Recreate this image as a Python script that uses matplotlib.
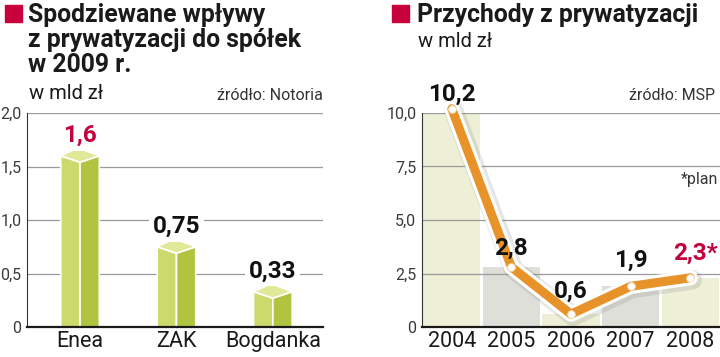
import matplotlib
matplotlib.use("Agg")
import matplotlib.pyplot as plt
import matplotlib.patheffects as pe
from matplotlib.patches import Rectangle

plt.rcParams['font.family'] = ['Roboto', 'DejaVu Sans']

# left chart: expected privatisation inflows 2009
companies = ["Enea", "ZAK", "Bogdanka"]
inflows = [1.6, 0.75, 0.33]
inflow_labels = ["1,6", "0,75", "0,33"]
inflow_label_colors = ["#c4003c", "#111111", "#111111"]
left_ticks = [0, 0.5, 1.0, 1.5, 2.0]
left_tick_labels = ["0", "0,5", "1,0", "1,5", "2,0"]

# right chart: privatisation revenues
years = ["2004", "2005", "2006", "2007", "2008"]
revenues = [10.2, 2.8, 0.6, 1.9, 2.3]
revenue_labels = ["10,2", "2,8", "0,6", "1,9", "2,3*"]
revenue_label_colors = ["#111111", "#111111", "#111111", "#111111", "#c4003c"]
revenue_label_offsets = [6, 9, 12, 14, 13]
right_ticks = [0, 2.5, 5.0, 7.5, 10.0]
right_tick_labels = ["0", "2,5", "5,0", "7,5", "10,0"]

W, H = 720, 357
fig = plt.figure(figsize=(W / 100, H / 100), dpi=100)

RED = "#c8003c"
GRID = "#9a9a9a"
TICK = "#3a3a3a"


def fx(px):
    return px / W


def fy(py):
    return 1 - py / H


def style_axes(ax, ticks, labels):
    ax.set_yticks(ticks)
    ax.set_yticklabels(labels, fontsize=11.5, color=TICK)
    ax.tick_params(axis="y", length=0, pad=4)
    ax.tick_params(axis="x", length=0, pad=3, labelsize=15.5, labelcolor="#1a1a1a")
    for s in ["top", "right"]:
        ax.spines[s].set_visible(False)
    ax.spines["left"].set_color("#333333")
    ax.spines["left"].set_linewidth(0.8)
    ax.spines["bottom"].set_color("#1a1a1a")
    ax.spines["bottom"].set_linewidth(1.6)
    ax.spines["bottom"].set_zorder(6)
    for t in ticks[1:]:
        ax.axhline(t, color=GRID, lw=0.9, zorder=2)


# ---------- left chart ----------
ax1 = fig.add_axes([fx(27), 1 - 327 / H, 296 / W, 214 / H])
ax1.set_xlim(-0.55, 2.52)
ax1.set_ylim(0, 2.0)
style_axes(ax1, left_ticks, left_tick_labels)
ax1.set_xticks(range(len(companies)))
ax1.set_xticklabels(companies)

hw = 0.2
dy_low = 0.06
dy_high = 0.075
for i, v in enumerate(inflows):
    lf = [i - hw, i - hw, i, i]
    ly = [0, v, v - dy_low, 0]
    rf = [i, i, i + hw, i + hw]
    ry = [0, v - dy_low, v, 0]
    tx = [i - hw, i - 0.02, i + hw, i]
    ty = [v, v + dy_high, v, v - dy_low]
    ax1.fill(lf, ly, color="#cbda6c", ec="white", lw=1.2, zorder=3)
    ax1.fill(rf, ry, color="#b0c440", ec="white", lw=1.2, zorder=3)
    ax1.fill(tx, ty, color="#dfe997", ec="white", lw=1.2, zorder=3)
    ax1.annotate(inflow_labels[i], (i, v), xytext=(0, 10), textcoords="offset points",
                 ha="center", va="baseline", fontsize=17.5, fontweight="bold",
                 color=inflow_label_colors[i], zorder=5,
                 bbox=dict(boxstyle="square,pad=0.15", fc="white", ec="none"))

# ---------- right chart ----------
ax2 = fig.add_axes([fx(422), 1 - 327 / H, 298 / W, 214 / H])
ax2.set_xlim(-0.5, 4.5)
ax2.set_ylim(0, 10.0)
style_axes(ax2, right_ticks, right_tick_labels)
ax2.set_xticks(range(len(years)))
ax2.set_xticklabels(years)

col_colors = ["#edefd6", "#dedfd8", "#edefd6", "#dedfd8", "#edefd6"]
ax2.bar(range(len(years)), revenues, width=0.96, color=col_colors, zorder=1)

x = list(range(len(years)))
ax2.plot(x, revenues, color="#e8932a", lw=6.5, solid_joinstyle="round",
         solid_capstyle="round", zorder=4, clip_on=False,
         path_effects=[pe.SimpleLineShadow(offset=(1.5, -1.5), shadow_color="#777777",
                                           alpha=0.18, linewidth=14),
                       pe.Stroke(linewidth=11, foreground="white"),
                       pe.Normal()])
ax2.plot(x, revenues, "o", ms=5.5, mfc="white", mec="#f4e0c0", mew=0.6,
         zorder=5, clip_on=False)

for i, v in enumerate(revenues):
    ax2.annotate(revenue_labels[i], (i, v), xytext=(0, revenue_label_offsets[i]),
                 textcoords="offset points", ha="center", va="baseline",
                 fontsize=17.5, fontweight="bold", color=revenue_label_colors[i],
                 zorder=6, annotation_clip=False)
# the asterisk shifts the last label; start it so the number sits above the point
ax2.texts[-1].set_horizontalalignment("left")
ax2.texts[-1].set_position((-12, revenue_label_offsets[-1]))

# ---------- titles and notes ----------
for px in (5, 392):
    fig.patches.append(Rectangle((fx(px), fy(22)), 17 / W, 17 / H,
                                 transform=fig.transFigure, color=RED))

title_kw = dict(fontsize=17.8, fontweight="bold", color="#1a1a1a", va="baseline")
fig.text(fx(28), fy(22), "Spodziewane wpływy", **title_kw)
fig.text(fx(28), fy(47), "z prywatyzacji do spółek", **title_kw)
fig.text(fx(28), fy(72), "w 2009 r.", **title_kw)
fig.text(fx(29), fy(99), "w mld zł", fontsize=14.5, color="#1a1a1a", va="baseline")
fig.text(fx(323), fy(100), "źródło: Notoria", fontsize=11.5, color="#333333",
         ha="right", va="baseline")

fig.text(fx(417), fy(22), "Przychody z prywatyzacji", **title_kw)
fig.text(fx(418), fy(47), "w mld zł", fontsize=14.5, color="#1a1a1a", va="baseline")
fig.text(fx(715), fy(100), "źródło: MSP", fontsize=11.5, color="#333333",
         ha="right", va="baseline")
fig.text(fx(718), fy(184), "*plan", fontsize=11.5, color="#333333",
         ha="right", va="baseline")

fig.savefig("out.png", dpi=100)
